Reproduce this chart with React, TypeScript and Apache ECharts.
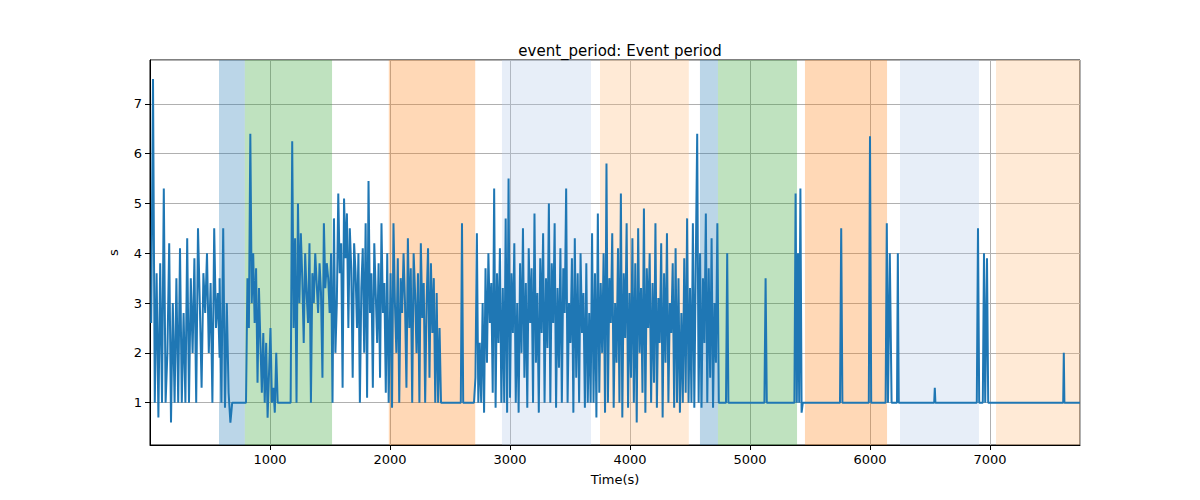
import { useEffect, useRef } from 'react';
import * as echarts from 'echarts';

// noisy segments: [start time, step, values]
const segA = { start: 10, step: 15, values: [2.6, 7.5, 1.0, 3.6, 0.7, 3.8, 1.0, 5.3, 1.0, 2.0, 4.2, 0.6, 3.0, 1.0, 3.5, 1.0, 4.1, 1.0, 2.8, 1.0, 4.3, 1.0, 3.5, 2.0, 3.9, 1.0, 4.5, 3.0, 1.3, 3.6, 2.8, 4.0, 2.0, 3.4, 1.0, 4.5, 2.5, 3.2, 1.9] };
const segB = { start: 580, step: 15, values: [3.5, 1.0, 4.5, 0.9, 3.0, 1.2, 0.6, 1.0, 1.0, 1.0, 1.0, 1.0, 1.0, 1.0, 1.0] };
const segC = { start: 800, step: 12, values: [1.0, 3.5, 2.5, 6.4, 3.0, 4.0, 2.6, 3.7, 1.4, 3.3, 2.2, 1.2, 2.4, 1.0, 2.2, 0.7, 1.6, 2.5, 1.0, 1.3, 0.8, 2.0, 1.0, 1.0, 1.0, 1.0, 1.0, 1.0, 1.0, 1.0, 1.0, 1.0] };
const segD = { start: 1185, step: 12, values: [6.25, 2.5, 4.3, 1.0, 5.0, 3.0, 4.4, 3.5, 2.2, 4.0, 3.2, 2.6, 4.2, 1.0, 3.6, 3.0, 4.0, 3.4, 2.8, 3.8, 3.2, 1.5, 4.6, 3.3, 3.8, 3.5, 2.8, 4.0, 1.0, 4.7, 2.0, 3.0, 5.2, 3.6, 4.2, 1.3, 5.1, 3.9, 4.8, 2.5, 4.5, 3.7, 1.5, 4.2, 3.6, 2.5, 4.0, 1.0, 3.3, 4.1, 2.0, 4.6, 1.1, 5.45, 2.8, 3.6, 1.3, 4.2, 3.2, 2.2, 3.8, 1.5, 4.6, 2.8, 3.4, 1.2, 4.0, 1.0] };
const segE = { start: 2005, step: 12, values: [3.6, 0.9, 4.6, 3.0, 2.0, 3.9, 1.0, 3.5, 2.8, 4.0, 3.0, 1.3, 4.3, 2.5, 3.7, 1.0, 4.0, 3.2, 2.0, 3.6, 1.0, 4.2, 2.7, 3.4, 1.0, 3.0, 4.1, 1.5, 3.8, 2.4, 3.5, 1.0, 3.2, 1.0, 2.5, 1.0] };
const segF = { start: 2700, step: 12, values: [
  1.0, 1.5, 4.4, 1.0, 2.2, 1.0, 3.0, 0.8, 3.7, 1.8, 4.0, 2.6, 3.4, 1.2, 5.3, 0.9, 3.6, 2.2, 4.1, 1.0,
  3.3, 1.0, 4.7, 0.8, 5.5, 1.1, 3.6, 2.4, 4.2, 1.0, 3.0, 0.8, 3.8, 2.0, 4.5, 1.5, 3.4, 0.9, 4.1, 2.6, 3.7, 1.0, 4.8, 1.8, 3.2, 0.8, 3.9, 2.4, 4.4, 1.0, 3.5, 2.1, 5.0, 1.0, 3.8, 2.6, 4.6, 0.9, 3.3, 1.7, 4.1, 1.0, 3.7, 2.8, 5.3, 1.0, 3.0, 2.2, 3.9, 0.8, 4.3, 1.5, 3.6, 1.0, 4.0, 2.4, 3.2, 0.9, 3.8, 1.0, 2.8, 1.0, 4.4, 1.0,
  3.6, 0.7, 4.8, 1.2, 3.4, 2.0, 4.0, 0.8, 5.8, 1.0, 3.5, 2.6, 4.4, 0.9, 3.0, 1.8, 4.1, 1.0, 5.2, 0.7, 3.6, 2.3, 4.6, 0.9, 3.2, 1.5, 4.3, 1.0, 3.8, 0.6, 4.5, 2.0, 3.3, 1.2, 4.9, 0.8, 3.7, 2.5, 4.0, 1.0, 3.4, 1.4, 4.6, 0.9, 3.1, 2.2, 4.2, 0.7, 3.6, 1.8, 4.4, 1.0, 3.0, 2.4, 3.8, 0.9, 4.1, 1.0, 3.5, 0.8, 2.8, 1.0, 3.9, 1.2, 4.7, 1.0, 3.3,
  1.0, 4.6, 0.9, 3.8, 6.4, 1.0, 4.0, 0.9, 3.5, 2.2, 4.8, 1.0, 3.7, 1.5, 4.3, 0.9, 3.0, 1.8, 4.6, 1.0, 1.0] };

// flat stretches with isolated spikes: [time, value]
const flat1: [number, number][] = [[2440, 1.0], [2590, 1.0], [2600, 4.6], [2610, 1.0], [2690, 1.0]];
const flat2: [number, number][] = [
  [4760, 1.0], [4800, 1.0], [4810, 4.0], [4820, 1.0], [5120, 1.0], [5130, 3.5], [5140, 1.0],
  [5370, 1.0], [5380, 5.2], [5390, 1.0], [5400, 4.0], [5410, 1.0], [5420, 5.3], [5430, 0.8], [5440, 1.0],
  [5750, 1.0], [5760, 4.5], [5770, 1.0], [5990, 1.0], [6000, 6.35], [6010, 1.0],
  [6130, 1.0], [6140, 4.6], [6150, 1.0], [6165, 4.0], [6180, 1.0], [6225, 1.0], [6232, 4.0], [6240, 1.0],
  [6535, 1.0], [6540, 1.3], [6545, 1.0], [6890, 1.0], [6900, 4.5], [6910, 1.0], [6940, 1.0], [6950, 4.0], [6960, 1.0], [6975, 3.9], [6985, 1.0],
  [7610, 1.0], [7615, 2.0], [7620, 1.0], [7750, 1.0],
];

const spans: [number, number, string][] = [
  [575, 790, 'rgba(31,119,180,0.3)'],
  [790, 1517, 'rgba(44,160,44,0.3)'],
  [1990, 2710, 'rgba(255,127,14,0.3)'],
  [2933, 3675, 'rgba(174,199,232,0.3)'],
  [3750, 4490, 'rgba(255,187,120,0.3)'],
  [4583, 4733, 'rgba(31,119,180,0.3)'],
  [4733, 5392, 'rgba(44,160,44,0.3)'],
  [5458, 6142, 'rgba(255,127,14,0.3)'],
  [6250, 6908, 'rgba(174,199,232,0.3)'],
  [7050, 7750, 'rgba(255,187,120,0.3)'],
];

function expand(s: { start: number; step: number; values: number[] }): [number, number][] {
  return s.values.map((v, i) => [s.start + i * s.step, v]);
}

const seriesData: [number, number][] = [
  ...expand(segA), ...expand(segB), ...expand(segC), ...expand(segD), ...expand(segE),
  ...flat1, ...expand(segF), ...flat2,
];

export default function App() {
  const ref = useRef<HTMLDivElement>(null);

  useEffect(() => {
    if (!ref.current) return;
    const chart = echarts.init(ref.current, null, { renderer: 'svg' });
    const font = 'DejaVu Sans';
    chart.setOption({
      animation: false,
      title: {
        text: 'event_period: Event period',
        left: 615,
        top: 38,
        textAlign: 'center',
        textStyle: { fontFamily: font, fontSize: 15, fontWeight: 'normal', color: '#000' },
      },
      grid: { left: 150, right: 120, top: 60, bottom: 55, show: true, borderColor: '#000', borderWidth: 1 },
      xAxis: {
        type: 'value',
        min: 0,
        max: 7750,
        interval: 1000,
        name: 'Time(s)',
        nameLocation: 'middle',
        nameGap: 28,
        nameTextStyle: { fontFamily: font, fontSize: 13, color: '#000' },
        axisLine: { onZero: false, lineStyle: { color: '#000' } },
        axisTick: { lineStyle: { color: '#000' } },
        axisLabel: { showMinLabel: false, showMaxLabel: false, fontFamily: font, fontSize: 13, color: '#000', formatter: (v: number) => String(v) },
        splitLine: { show: true, lineStyle: { color: '#b0b0b0' } },
      },
      yAxis: {
        type: 'value',
        min: 0.15,
        max: 7.88,
        splitNumber: 8,
        name: 's',
        nameLocation: 'middle',
        nameGap: 30,
        nameTextStyle: { fontFamily: font, fontSize: 13, color: '#000' },
        axisLine: { show: true, lineStyle: { color: '#000' } },
        axisTick: { show: true, lineStyle: { color: '#000' } },
        axisLabel: { showMinLabel: false, showMaxLabel: false, fontFamily: font, fontSize: 13, color: '#000' },
        splitLine: { show: true, lineStyle: { color: '#b0b0b0' } },
      },
      series: [
        {
          type: 'line',
          data: seriesData,
          showSymbol: false,
          lineStyle: { color: '#1f77b4', width: 2 },
          markArea: {
            silent: true,
            data: spans.map(([a, b, c]) => [{ xAxis: a, itemStyle: { color: c } }, { xAxis: b }]),
          },
        },
      ],
    });
    return () => chart.dispose();
  }, []);

  return <div ref={ref} style={{ width: 1200, height: 500, margin: -8 }} />;
}
